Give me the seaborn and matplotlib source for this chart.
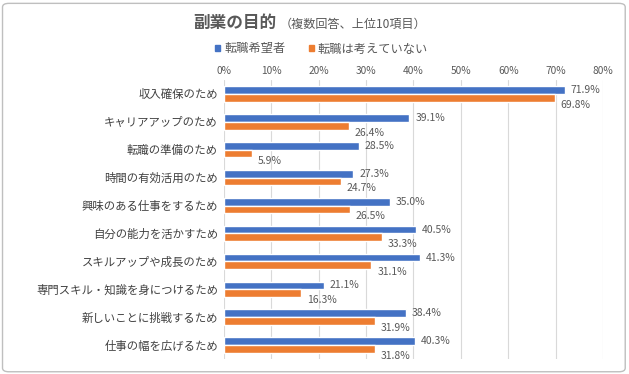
import pandas as pd
import matplotlib.pyplot as plt
import matplotlib.patches as mpatches
import seaborn as sns

# data
categories = ["収入確保のため", "キャリアアップのため", "転職の準備のため", "時間の有効活用のため",
              "興味のある仕事をするため", "自分の能力を活かすため", "スキルアップや成長のため",
              "専門スキル・知識を身につけるため", "新しいことに挑戦するため", "仕事の幅を広げるため"]
series_names = ["転職希望者", "転職は考えていない"]
want_change = [71.9, 39.1, 28.5, 27.3, 35.0, 40.5, 41.3, 21.1, 38.4, 40.3]
no_change = [69.8, 26.4, 5.9, 24.7, 26.5, 33.3, 31.1, 16.3, 31.9, 31.8]
x_ticks = [0, 10, 20, 30, 40, 50, 60, 70, 80]

df = pd.DataFrame({
    "item": categories * 2,
    "group": [series_names[0]] * len(categories) + [series_names[1]] * len(categories),
    "value": want_change + no_change,
})

sns.set_theme(style="white")
plt.rcParams["font.family"] = ["Noto Sans CJK JP", "DejaVu Sans"]

fig = plt.figure(figsize=(6.29, 3.74), dpi=100)
ax = fig.add_axes([0.3561, 0.0401, 0.6025, 0.746])

colors = ["#4472C4", "#ED7D31"]
sns.barplot(data=df, y="item", x="value", hue="group", order=categories,
            hue_order=series_names, palette=colors, orient="h", width=0.55,
            saturation=1, ax=ax, legend=False)

ax.set_xlim(0, 80)
ax.set_xticks(x_ticks)
ax.set_xticklabels([f"{t}%" for t in x_ticks], fontsize=7.3, color="#595959")
ax.xaxis.tick_top()
ax.tick_params(axis="x", length=0, pad=3)
ax.tick_params(axis="y", length=0, pad=4.3, labelsize=8.2, labelcolor="#404040")
ax.set_xlabel("")
ax.set_ylabel("")
ax.grid(axis="x", color="#D9D9D9", linewidth=0.8)
ax.set_axisbelow(True)
for s in ax.spines.values():
    s.set_visible(False)

# value labels
for i, cont in enumerate(ax.containers):
    dy = 0 if i == 0 else -5
    for p in cont.patches:
        w = p.get_width()
        ax.annotate(f"{w:.1f}%", (w, p.get_y() + p.get_height() / 2),
                    xytext=(4.3, dy), textcoords="offset points",
                    ha="left", va="center", fontsize=7.5, color="#595959")

# title
fig.text(0.307, 0.9385, "副業の目的", fontsize=12, fontweight="bold",
         color="#595959", ha="left", va="center")
fig.text(0.444, 0.936, "（複数回答、上位10項目）", fontsize=8.7,
         color="#595959", ha="left", va="center")

# legend
handles = [mpatches.Patch(color=c, label=n) for c, n in zip(colors, series_names)]
fig.legend(handles=handles, loc="center", bbox_to_anchor=(0.511, 0.869), ncol=2,
           frameon=False, fontsize=8.8, handlelength=0.45, handleheight=0.45,
           handletextpad=0.3, columnspacing=1.9, labelcolor="#595959",
           borderpad=0, borderaxespad=0)

# outer frame
fig.patches.append(mpatches.FancyBboxPatch((0.004, 0.006), 0.99, 0.985,
                                           boxstyle="round,pad=0,rounding_size=0.01",
                                           transform=fig.transFigure, fill=False,
                                           edgecolor="#BFBFBF", linewidth=1))

fig.savefig("out.png", dpi=100)
plt.close(fig)
